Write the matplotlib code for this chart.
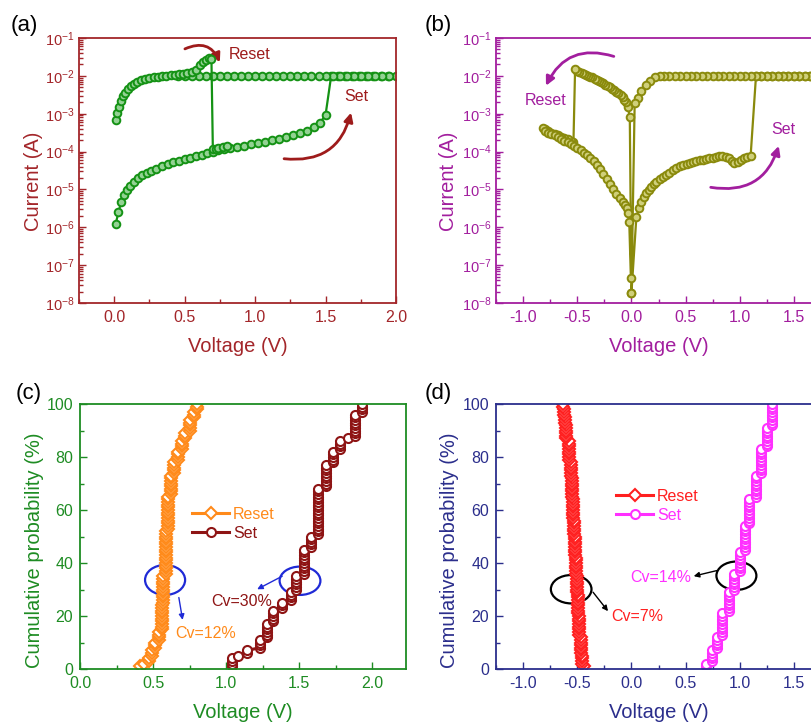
#!/usr/bin/python
#
# Resistive switching figure: I-V sweeps (a, b) and cumulative
# distributions of set/reset voltages (c, d).

import numpy as np
import matplotlib
matplotlib.use('Agg')
import matplotlib.pyplot as plt
from matplotlib.patches import Ellipse, FancyArrowPatch
from matplotlib.ticker import LogLocator, MultipleLocator, NullFormatter

plt.rcParams['font.family'] = ['Liberation Sans', 'DejaVu Sans']
plt.rcParams['mathtext.fontset'] = 'custom'
plt.rcParams['mathtext.rm'] = 'Liberation Sans'
plt.rcParams['axes.unicode_minus'] = False

# ---------------------------------------------------------------- data (a)
# currents are stored as log10(I / A)
a_set_v    = [0.01, 0.03, 0.05, 0.07, 0.09, 0.11, 0.14, 0.17, 0.20, 0.23, 0.26, 0.30,
              0.34, 0.38, 0.42, 0.46, 0.50, 0.54, 0.58, 0.62, 0.66, 0.70, 0.74, 0.78,
              0.82, 0.87, 0.92, 0.97, 1.02, 1.07, 1.12, 1.17, 1.22, 1.27, 1.32, 1.37,
              1.42, 1.46, 1.50]
a_set_logi = [-5.92, -5.60, -5.33, -5.15, -5.01, -4.90, -4.80, -4.70, -4.63, -4.57, -4.52, -4.45,
              -4.39, -4.33, -4.28, -4.24, -4.20, -4.16, -4.12, -4.08, -4.04, -4.00, -3.97, -3.93,
              -3.90, -3.87, -3.84, -3.80, -3.77, -3.74, -3.70, -3.66, -3.61, -3.57, -3.52, -3.45,
              -3.36, -3.25, -3.03]
# compliance sweep at 1e-2 A after set (up to 2 V and back)
a_comp_v   = [1.54, 1.59, 1.64, 1.69, 1.74, 1.79, 1.84, 1.89, 1.94, 2.00,
              1.95, 1.90, 1.85, 1.80, 1.75, 1.70, 1.65, 1.60, 1.55, 1.50, 1.45, 1.40,
              1.35, 1.30, 1.25, 1.20, 1.15, 1.10, 1.05, 1.00, 0.95, 0.90, 0.85, 0.80,
              0.75, 0.70, 0.65, 0.60, 0.55, 0.50, 0.45]
a_comp_logi = -2.0
a_reset_v    = [0.01, 0.02, 0.035, 0.05, 0.065, 0.08, 0.10, 0.12, 0.14, 0.16, 0.19, 0.22,
                0.25, 0.28, 0.31, 0.34, 0.37, 0.40, 0.43, 0.46, 0.49, 0.52, 0.55, 0.58,
                0.61, 0.63, 0.65, 0.67, 0.69, 0.70, 0.72, 0.74, 0.77, 0.80]
a_reset_logi = [-3.17, -2.99, -2.81, -2.66, -2.54, -2.46, -2.36, -2.28, -2.21, -2.16, -2.11, -2.07,
                -2.05, -2.03, -2.02, -2.01, -2.00, -1.99, -1.97, -1.96, -1.94, -1.92, -1.89, -1.85,
                -1.72, -1.63, -1.57, -1.54, -1.56, -3.93, -3.92, -3.90, -3.88, -3.85]

# ---------------------------------------------------------------- data (b)
b_set_v    = [0.0, 0.046, 0.07, 0.092, 0.115, 0.138, 0.16, 0.185, 0.21, 0.23, 0.26, 0.29,
              0.32, 0.35, 0.38, 0.415, 0.445, 0.477, 0.51, 0.54, 0.57, 0.60, 0.63, 0.66,
              0.69, 0.72, 0.75, 0.78, 0.81, 0.84, 0.87, 0.90, 0.93, 0.95, 0.98, 1.01,
              1.04, 1.07, 1.10]
b_set_logi = [-7.74, -5.72, -5.50, -5.32, -5.20, -5.10, -5.01, -4.93, -4.86, -4.80, -4.73, -4.66,
              -4.61, -4.56, -4.50, -4.44, -4.39, -4.35, -4.32, -4.29, -4.27, -4.25, -4.23, -4.21,
              -4.19, -4.17, -4.16, -4.14, -4.13, -4.13, -4.14, -4.18, -4.25, -4.31, -4.28, -4.22,
              -4.18, -4.15, -4.13]
b_comp_v   = [1.15, 1.20, 1.25, 1.30, 1.35, 1.40, 1.45, 1.50, 1.55, 1.60, 1.65, 1.70, 1.75,
              1.80, 1.85, 1.90, 1.95, 2.00,
              1.95, 1.90, 1.85, 1.80, 1.75, 1.70, 1.65, 1.60, 1.55, 1.50, 1.45, 1.40,
              1.35, 1.30, 1.25, 1.20, 1.15, 1.10, 1.05, 1.00, 0.95, 0.90, 0.85, 0.80,
              0.75, 0.70, 0.65, 0.60, 0.55, 0.50, 0.45, 0.40, 0.35, 0.30]
b_comp_logi = -2.0
b_lrs_pos_v    = [0.26, 0.215, 0.17, 0.13, 0.09, 0.06, 0.03, 0.0]
b_lrs_pos_logi = [-2.00, -2.04, -2.13, -2.24, -2.41, -2.58, -2.72, -7.74]
b_reset_v    = [-0.015, -0.035, -0.05, -0.065, -0.08, -0.10, -0.12, -0.14, -0.16, -0.18,
                -0.20, -0.22, -0.24, -0.26, -0.28, -0.30, -0.32, -0.34, -0.36, -0.38,
                -0.40, -0.42, -0.44, -0.46, -0.48, -0.50, -0.52,
                -0.535, -0.56, -0.59, -0.62, -0.65, -0.68, -0.71, -0.74, -0.77, -0.80, -0.815,
                -0.80, -0.77, -0.74, -0.71, -0.68, -0.65, -0.62, -0.59, -0.56, -0.53,
                -0.50, -0.47, -0.44, -0.41, -0.38, -0.35, -0.32, -0.29, -0.26, -0.23,
                -0.20, -0.17, -0.14, -0.11, -0.08, -0.06, -0.045, -0.03, -0.02, -0.005]
b_reset_logi = [-3.08, -2.81, -2.70, -2.63, -2.57, -2.51, -2.46, -2.42, -2.38, -2.34,
                -2.30, -2.26, -2.23, -2.19, -2.16, -2.13, -2.10, -2.07, -2.04, -2.02,
                -2.00, -1.97, -1.95, -1.92, -1.89, -1.86, -1.83,
                -3.74, -3.71, -3.67, -3.64, -3.61, -3.57, -3.54, -3.51, -3.46, -3.41, -3.39,
                -3.45, -3.50, -3.54, -3.57, -3.61, -3.66, -3.71, -3.76, -3.81, -3.86,
                -3.90, -3.96, -4.03, -4.10, -4.18, -4.26, -4.36, -4.47, -4.59, -4.72,
                -4.85, -4.99, -5.11, -5.22, -5.32, -5.42, -5.49, -5.62, -5.85, -7.35]

# ---------------------------------------------------------------- data (c), (d)
# switching voltage levels and number of cycles at each level
c_reset_levels = [0.41, 0.44, 0.47, 0.49, 0.51, 0.54, 0.56, 0.57, 0.59, 0.60, 0.62, 0.64,
                  0.67, 0.70, 0.72, 0.75, 0.78, 0.80]
c_reset_counts = [1, 1, 2, 3, 3, 4, 10, 11, 17, 13, 8, 5, 4, 4, 3, 5, 3, 3]
c_set_levels   = [1.04, 1.08, 1.14, 1.23, 1.28, 1.32, 1.38, 1.44, 1.48, 1.53, 1.58, 1.63,
                  1.68, 1.73, 1.78, 1.83, 1.88, 1.93]
c_set_counts   = [4, 1, 2, 4, 6, 5, 3, 4, 6, 10, 5, 18, 9, 5, 4, 1, 9, 4]

d_reset_levels = [-0.44, -0.46, -0.47, -0.48, -0.49, -0.50, -0.51, -0.52, -0.53, -0.54,
                  -0.55, -0.56, -0.58, -0.60, -0.61, -0.62, -0.63]
d_reset_counts = [1, 4, 7, 8, 8, 7, 7, 8, 6, 8, 8, 6, 8, 6, 3, 3, 2]
d_set_levels   = [0.69, 0.74, 0.79, 0.84, 0.90, 0.95, 1.00, 1.05, 1.09, 1.15, 1.20, 1.25, 1.30]
d_set_counts   = [2, 5, 5, 9, 8, 7, 8, 10, 10, 9, 10, 8, 9]

# colours
A_AXIS  = '#A3262A'
A_DATA  = '#149214'
B_AXIS  = '#A21E9E'
B_DATA  = '#8A8A0C'
C_AXIS  = '#1E8C23'
C_RESET = '#FF8A1A'
C_SET   = '#8E1414'
D_AXIS  = '#2B2E8C'
D_RESET = '#FF2020'
D_SET   = '#FF30FF'

W, H = 811.0, 724.0

def px_axes(fig, left, top, right, bottom):
    """Add axes from pixel box (origin top-left)."""
    return fig.add_axes([left/W, 1 - bottom/H, (right-left)/W, (bottom-top)/H])
#END: px_axes

def style_axes(ax, color, tick_size):
    for s in ax.spines.values():
        s.set_color(color)
        s.set_linewidth(1.3)
    ax.tick_params(which='both', direction='in', colors=color, top=False, right=False,
                   labelsize=tick_size, width=1.0)
    ax.tick_params(which='major', length=5, pad=5)
    ax.tick_params(which='minor', length=3)
#END: style_axes

def style_log(ax):
    ax.set_yscale('log')
    ax.set_ylim(1e-8, 1e-1)
    ax.yaxis.set_major_locator(LogLocator(base=10, numticks=20))
    ax.yaxis.set_minor_locator(LogLocator(base=10, subs=np.arange(2, 10), numticks=20))
    ax.yaxis.set_minor_formatter(NullFormatter())
    ax.tick_params(axis='y', which='major', labelsize=10.5, pad=3)
#END: style_log

def cumulative(levels, counts):
    v = np.repeat(levels, counts)
    p = np.arange(1, len(v) + 1) / len(v) * 100.0
    return v, p
#END: cumulative

def curved_arrow(ax, start, end, rad, color):
    arr = FancyArrowPatch(start, end, connectionstyle='arc3,rad={}'.format(rad),
                          arrowstyle='-|>', mutation_scale=13, lw=2.0, color=color)
    ax.add_patch(arr)
#END: curved_arrow

def panel_a(fig):
    ax = px_axes(fig, 79, 38, 396, 303)
    v = list(a_set_v) + list(a_comp_v)
    logi = list(a_set_logi) + [a_comp_logi] * len(a_comp_v)
    kw = dict(color=A_DATA, lw=1.6, marker='o', ms=5.5, mfc='#93d293', mec=A_DATA, mew=1.4)
    ax.plot(v, 10.0 ** np.array(logi), **kw)
    ax.plot(a_reset_v, 10.0 ** np.array(a_reset_logi), **kw)

    ax.set_xlim(-0.25, 2.0)
    ax.xaxis.set_major_locator(MultipleLocator(0.5))
    ax.xaxis.set_minor_locator(MultipleLocator(0.25))
    style_axes(ax, A_AXIS, 11.5)
    style_log(ax)
    ax.set_xlabel('Voltage (V)', fontsize=14.5, color=A_AXIS)
    ax.set_ylabel('Current (A)', fontsize=14.5, color=A_AXIS)
    ax.xaxis.set_label_coords(0.5, -0.128)
    ax.yaxis.set_label_coords(-0.115, 0.46)

    curved_arrow(ax, (0.484, 0.048), (0.757, 0.0194), -0.55, '#9E1B1B')
    ax.text(0.81, 0.037, 'Reset', color='#9E1B1B', fontsize=11.5, va='center')
    curved_arrow(ax, (1.186, 6.6e-5), (1.686, 1.26e-3), 0.45, '#9E1B1B')
    ax.text(1.63, 2.8e-3, 'Set', color='#9E1B1B', fontsize=11.5, va='center')
#END: panel_a

def panel_b(fig):
    ax = px_axes(fig, 496, 38, 821, 303)
    v = list(b_set_v) + list(b_comp_v) + list(b_lrs_pos_v) + list(b_reset_v)
    logi = (list(b_set_logi) + [b_comp_logi] * len(b_comp_v) + list(b_lrs_pos_logi)
            + list(b_reset_logi))
    ax.plot(v, 10.0 ** np.array(logi), color=B_DATA, lw=1.6, marker='o', ms=5.5,
            mfc='#cfcf7a', mec=B_DATA, mew=1.4)

    ax.set_xlim(-1.25, 1.75)
    ax.xaxis.set_major_locator(MultipleLocator(0.5))
    ax.xaxis.set_minor_locator(MultipleLocator(0.25))
    style_axes(ax, B_AXIS, 11.5)
    style_log(ax)
    ax.set_xlabel('Voltage (V)', fontsize=14.5, color=B_AXIS)
    ax.set_ylabel('Current (A)', fontsize=14.5, color=B_AXIS)
    ax.xaxis.set_label_coords(0.5, -0.128)
    ax.yaxis.set_label_coords(-0.118, 0.46)

    curved_arrow(ax, (-0.138, 0.031), (-0.80, 4.7e-3), 0.45, B_AXIS)
    ax.text(-0.984, 2.3e-3, 'Reset', color=B_AXIS, fontsize=11.5, va='center')
    curved_arrow(ax, (0.707, 1.17e-5), (1.368, 1.66e-4), 0.45, B_AXIS)
    ax.text(1.29, 3.9e-4, 'Set', color=B_AXIS, fontsize=11.5, va='center')
#END: panel_b

def cdf_axes(ax, color):
    ax.set_ylim(0, 100)
    ax.yaxis.set_major_locator(MultipleLocator(20))
    ax.yaxis.set_minor_locator(MultipleLocator(10))
    ax.xaxis.set_major_locator(MultipleLocator(0.5))
    ax.xaxis.set_minor_locator(MultipleLocator(0.25))
    style_axes(ax, color, 11.5)
    ax.set_xlabel('Voltage (V)', fontsize=14.5, color=color)
    ax.set_ylabel('Cumulative probability (%)', fontsize=14.5, color=color)
    ax.xaxis.set_label_coords(0.5, -0.128)
#END: cdf_axes

def panel_c(fig):
    ax = px_axes(fig, 80, 404, 406, 669)
    rv, rp = cumulative(c_reset_levels, c_reset_counts)
    sv, sp = cumulative(c_set_levels, c_set_counts)
    ax.plot(rv, rp, color=C_RESET, lw=2.2, marker='D', ms=6, mfc='white', mec=C_RESET,
            mew=1.5, label='Reset')
    ax.plot(sv, sp, color=C_SET, lw=2.2, marker='o', ms=6.5, mfc='white', mec=C_SET,
            mew=1.5, label='Set')
    ax.set_xlim(0, 2.23)
    cdf_axes(ax, C_AXIS)
    ax.yaxis.set_label_coords(-0.111, 0.45)

    leg = ax.legend(loc='center left', bbox_to_anchor=(0.345, 0.548), frameon=False,
                    fontsize=11.5, handlelength=2.3, handletextpad=0.25, labelspacing=0.25,
                    borderpad=0, borderaxespad=0)
    for txt, c in zip(leg.get_texts(), [C_RESET, C_SET]):
        txt.set_color(c)

    ax.add_patch(Ellipse((0.582, 33.6), 0.274, 11.3, fill=False, ec='#1F2AD6', lw=1.6))
    ax.add_patch(Ellipse((1.505, 33.3), 0.279, 10.7, fill=False, ec='#1F2AD6', lw=1.6))
    arrow = dict(arrowstyle='-|>', color='#1F2AD6', lw=1.0, mutation_scale=8)
    ax.annotate('', xy=(0.705, 17.5), xytext=(0.673, 28.0), arrowprops=arrow)
    ax.annotate('', xy=(1.195, 29.6), xytext=(1.40, 35.5), arrowprops=arrow)
    ax.text(0.65, 13.4, 'Cv=12%', color=C_RESET, fontsize=11.5, va='center')
    ax.text(0.90, 25.4, 'Cv=30%', color=C_SET, fontsize=11.5, va='center')
#END: panel_c

def panel_d(fig):
    ax = px_axes(fig, 496, 404, 821, 669)
    rv, rp = cumulative(d_reset_levels, d_reset_counts)
    sv, sp = cumulative(d_set_levels, d_set_counts)
    ax.plot(rv, rp, color=D_RESET, lw=2.2, marker='D', ms=6, mfc='white', mec=D_RESET,
            mew=1.5, label='Reset')
    ax.plot(sv, sp, color=D_SET, lw=2.2, marker='o', ms=6.5, mfc='white', mec=D_SET,
            mew=1.5, label='Set')
    ax.set_xlim(-1.25, 1.75)
    cdf_axes(ax, D_AXIS)
    ax.yaxis.set_label_coords(-0.114, 0.45)

    leg = ax.legend(loc='center left', bbox_to_anchor=(0.37, 0.616), frameon=False,
                    fontsize=11.5, handlelength=2.3, handletextpad=0.25, labelspacing=0.25,
                    borderpad=0, borderaxespad=0)
    for txt, c in zip(leg.get_texts(), [D_RESET, D_SET]):
        txt.set_color(c)

    ax.add_patch(Ellipse((-0.556, 30.1), 0.375, 10.7, fill=False, ec='black', lw=1.6))
    ax.add_patch(Ellipse((0.969, 35.2), 0.369, 10.7, fill=False, ec='black', lw=1.6))
    arrow = dict(arrowstyle='-|>', color='black', lw=1.0, mutation_scale=8)
    ax.annotate('', xy=(-0.20, 21.0), xytext=(-0.37, 29.8), arrowprops=arrow)
    ax.annotate('', xy=(0.55, 34.8), xytext=(0.815, 37.4), arrowprops=arrow)
    ax.text(-0.185, 19.7, 'Cv=7%', color=D_RESET, fontsize=11.5, va='center')
    ax.text(0.55, 34.5, 'Cv=14%', color=D_SET, fontsize=11.5, va='center', ha='right')
#END: panel_d

def main():
    fig = plt.figure(figsize=(W/100.0, H/100.0), dpi=100)
    panel_a(fig)
    panel_b(fig)
    panel_c(fig)
    panel_d(fig)
    for label, x, y in [('(a)', 24, 25), ('(b)', 438, 25), ('(c)', 29, 393), ('(d)', 438, 393)]:
        fig.text(x/W, 1 - y/H, label, ha='center', va='center', fontsize=16)
    fig.savefig('out.png', dpi=100)
#END: main

if(__name__ == '__main__'):
    main()
